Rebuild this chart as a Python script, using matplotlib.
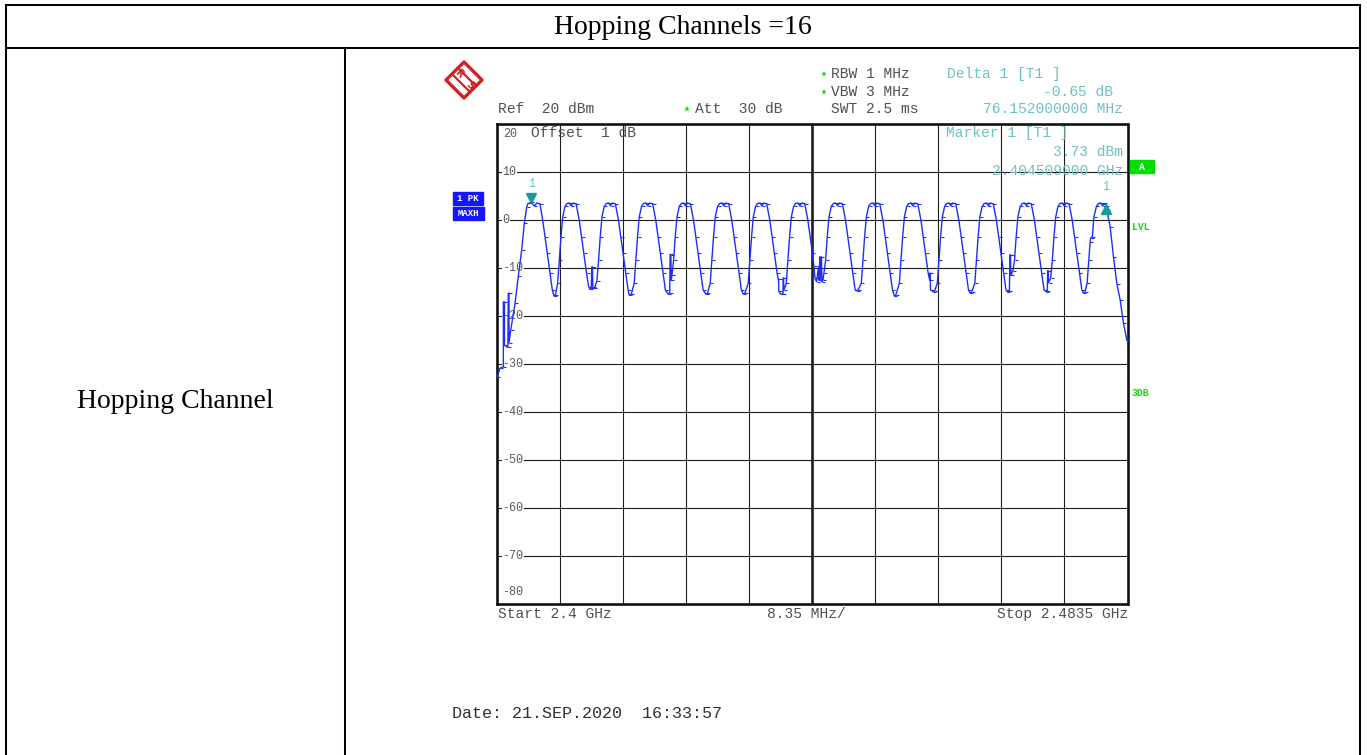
import numpy as np
import matplotlib
matplotlib.use("Agg")
import matplotlib.pyplot as plt
import matplotlib.transforms as mtransforms
from matplotlib.patches import Polygon, Rectangle

# table texts
title = "Hopping Channels =16"
row_label = "Hopping Channel"

# analyzer settings
start_mhz = 2400.0
stop_mhz = 2483.5
ref_level = 20
bottom_level = -80
grid_levels = [10, 0, -10, -20, -30, -40, -50, -60, -70]

# MAXH trace, frequency offset from start (MHz) and level (dBm), one line per channel
trace_offset_mhz = [
    0.00, 0.36, 0.80, 0.80, 0.95, 0.95, 1.40, 1.46, 1.55, 1.55, 1.78, 2.35, 2.78, 3.23, 3.58, 3.90, 4.07, 4.51, 4.90, 5.25, 5.66, 6.02, 6.32, 6.63, 6.98, 7.29, 7.51, 7.70,
    8.00, 8.22, 8.44, 8.67, 8.97, 9.25, 9.55, 9.80, 10.05, 10.45, 10.86, 11.16, 11.47, 11.82, 12.10, 12.28, 12.45, 12.52, 12.60, 12.66, 12.85,
    13.20, 13.42, 13.64, 13.87, 14.17, 14.45, 14.75, 15.00, 15.25, 15.65, 16.06, 16.36, 16.67, 17.02, 17.33, 17.49, 17.75,
    18.14, 18.36, 18.58, 18.81, 19.11, 19.39, 19.69, 19.94, 20.19, 20.59, 21.00, 21.30, 21.61, 21.96, 22.27, 22.66, 22.85, 22.90, 23.00, 23.04,
    23.14, 23.36, 23.58, 23.81, 24.11, 24.39, 24.69, 24.94, 25.19, 25.59, 26.00, 26.30, 26.61, 26.96, 27.27, 27.65, 27.85,
    28.21, 28.43, 28.65, 28.88, 29.18, 29.46, 29.76, 30.01, 30.26, 30.66, 31.07, 31.37, 31.68, 32.03, 32.34, 32.60, 32.80,
    33.25, 33.47, 33.69, 33.92, 34.22, 34.50, 34.80, 35.05, 35.30, 35.70, 36.11, 36.41, 36.72, 37.07, 37.22, 37.26, 37.30, 37.56, 37.85, 37.88, 37.93, 37.96,
    38.29, 38.51, 38.73, 38.96, 39.26, 39.54, 39.84, 40.09, 40.34, 40.74, 41.15, 41.45, 41.76, 41.95, 42.10, 42.30, 42.55, 42.62, 42.74, 42.80, 42.95, 43.02, 43.15,
    43.28, 43.50, 43.72, 43.95, 44.25, 44.53, 44.83, 45.08, 45.33, 45.73, 46.14, 46.44, 46.75, 47.10, 47.41, 47.63, 47.80,
    48.23, 48.45, 48.67, 48.90, 49.20, 49.48, 49.78, 50.03, 50.28, 50.68, 51.09, 51.39, 51.70, 52.05, 52.36, 52.62, 52.80,
    53.27, 53.49, 53.71, 53.94, 54.24, 54.52, 54.82, 55.07, 55.32, 55.72, 56.13, 56.43, 56.74, 57.09, 57.30, 57.35, 57.40, 57.79, 57.95,
    58.30, 58.52, 58.74, 58.97, 59.27, 59.55, 59.85, 60.10, 60.35, 60.75, 61.16, 61.46, 61.77, 62.12, 62.43, 62.65, 62.85,
    63.27, 63.49, 63.71, 63.94, 64.24, 64.52, 64.82, 65.07, 65.32, 65.72, 66.13, 66.43, 66.74, 67.09, 67.40, 67.60, 67.85, 67.92, 68.00, 68.05,
    68.31, 68.53, 68.75, 68.98, 69.28, 69.56, 69.86, 70.11, 70.36, 70.76, 71.17, 71.47, 71.78, 72.13, 72.44, 72.73, 72.88, 72.92, 73.00, 73.04,
    73.32, 73.54, 73.76, 73.99, 74.29, 74.57, 74.87, 75.12, 75.37, 75.77, 76.18, 76.48, 76.79, 77.14, 77.45, 77.67, 77.85,
    78.15, 78.37, 78.55, 78.62, 78.85, 79.05, 79.38, 79.66, 79.96, 80.21, 80.40, 80.66, 80.76, 81.20, 81.64, 82.09, 82.53, 82.97, 83.42,
]
trace_level_dbm = [
    -32.6, -30.8, -30.5, -17.0, -17.0, -26.0, -26.5, -15.2, -15.2, -25.5, -22.9, -17.3, -11.7, -6.2, -0.6, 2.8, 3.5, 3.73, 3.0, 3.6, 3.4, 0.0, -3.4, -6.9, -11.0, -14.5, -15.8, -15.6,
    -13.1, -8.3, -3.4, 0.7, 2.9, 3.5, 3.6, 3.0, 3.6, 3.4, 0.0, -3.4, -6.9, -11.0, -13.8, -14.4, -14.2, -9.7, -9.7, -14.0, -14.2,
    -12.6, -8.3, -3.4, 0.7, 2.9, 3.5, 3.6, 3.0, 3.6, 3.4, 0.0, -3.4, -6.9, -11.0, -14.5, -15.6, -15.4,
    -13.1, -8.3, -3.4, 0.7, 2.9, 3.5, 3.6, 3.0, 3.6, 3.4, 0.0, -3.4, -6.9, -11.0, -14.5, -15.4, -15.2, -7.1, -7.3, -12.5,
    -11.5, -8.3, -3.4, 0.7, 2.9, 3.5, 3.6, 3.0, 3.6, 3.4, 0.0, -3.4, -6.9, -11.0, -14.5, -15.4, -15.2,
    -13.1, -8.3, -3.4, 0.7, 2.9, 3.5, 3.6, 3.0, 3.6, 3.4, 0.0, -3.4, -6.9, -11.0, -14.5, -15.4, -15.2,
    -13.1, -8.3, -3.4, 0.7, 2.9, 3.5, 3.6, 3.0, 3.6, 3.4, 0.0, -3.4, -6.9, -11.0, -12.3, -12.3, -14.8, -15.4, -15.3, -12.0, -12.0, -14.6,
    -13.1, -8.3, -3.4, 0.7, 2.9, 3.5, 3.6, 3.0, 3.6, 3.4, 0.0, -3.4, -6.9, -9.5, -12.1, -12.8, -9.7, -12.5, -7.6, -12.3, -7.6, -12.8, -12.4,
    -11.0, -8.3, -3.4, 0.7, 2.9, 3.5, 3.6, 3.0, 3.6, 3.4, 0.0, -3.4, -6.9, -11.0, -14.5, -14.7, -14.5,
    -13.1, -8.3, -3.4, 0.7, 2.9, 3.5, 3.6, 3.0, 3.6, 3.4, 0.0, -3.4, -6.9, -11.0, -14.5, -15.8, -15.6,
    -13.1, -8.3, -3.4, 0.7, 2.9, 3.5, 3.6, 3.0, 3.6, 3.4, 0.0, -3.4, -6.9, -11.0, -12.5, -11.0, -14.5, -14.9, -14.7,
    -13.1, -8.3, -3.4, 0.7, 2.9, 3.5, 3.6, 3.0, 3.6, 3.4, 0.0, -3.4, -6.9, -11.0, -14.5, -15.2, -15.0,
    -13.1, -8.3, -3.4, 0.7, 2.9, 3.5, 3.6, 3.0, 3.6, 3.4, 0.0, -3.4, -6.9, -11.0, -14.5, -14.9, -14.8, -7.2, -7.2, -11.5,
    -10.5, -8.3, -3.4, 0.7, 2.9, 3.5, 3.6, 3.0, 3.6, 3.4, 0.0, -3.4, -6.9, -11.0, -14.5, -14.9, -14.7, -10.5, -10.5, -13.0,
    -12.0, -8.3, -3.4, 0.7, 2.9, 3.5, 3.6, 3.0, 3.6, 3.4, 0.0, -3.4, -6.9, -11.0, -14.5, -15.2, -15.0,
    -13.1, -8.3, -4.5, -3.7, -3.4, 0.7, 2.9, 3.5, 3.6, 3.0, 3.5, 3.08, 2.1, -1.3, -7.6, -13.2, -16.6, -21.5, -25.0,
]

# marker 1 and delta marker 1
marker_freq_mhz = [2404.509, 2480.661]
marker_level_dbm = [3.73, 3.08]

# screen annotations
settings_left = ["Ref  20 dBm", "Att  30 dB"]
settings_mid = ["RBW 1 MHz", "VBW 3 MHz", "SWT 2.5 ms"]
delta_info = ["Delta 1 [T1 ]", "-0.65 dB", "76.152000000 MHz"]
marker_info = ["Marker 1 [T1 ]", "3.73 dBm", "2.404509000 GHz"]
footer = ["Start 2.4 GHz", "8.35 MHz/", "Stop 2.4835 GHz"]
date_text = "Date: 21.SEP.2020  16:33:57"

W, H = 1367, 755
MONO = "Liberation Mono"
SERIF = "Liberation Serif"
INK = "#505050"
TEAL = "#6cc2c2"
GREEN = "#18d418"

fig = plt.figure(figsize=(W / 100, H / 100), dpi=100)


def rect(left, top, right, bottom):
    return [left / W, 1 - bottom / H, (right - left) / W, (bottom - top) / H]


# spectrum screen
ax = fig.add_axes(rect(497.3, 124.3, 1127.5, 604.3))
ax.set_xlim(start_mhz, stop_mhz)
ax.set_ylim(bottom_level, ref_level)
ax.set_xticks([])
ax.set_yticks([])
for sp in ax.spines.values():
    sp.set_linewidth(1.9)
    sp.set_color("#111111")

span = stop_mhz - start_mhz
for i in range(1, 10):
    ax.axvline(start_mhz + i * span / 10, color="#1e1e1e",
               lw=1.9 if i == 5 else 0.8, zorder=1)
for lvl in grid_levels:
    ax.axhline(lvl, color="#1e1e1e", lw=0.8, zorder=1)

ylab_tr = mtransforms.blended_transform_factory(ax.transAxes, ax.transData)
for lvl in grid_levels:
    ax.text(0.008, lvl, str(lvl), transform=ylab_tr, ha="left", va="center",
            family=MONO, fontsize=8.5, color="#5a5a5a", zorder=2,
            bbox=dict(fc="white", ec="none", pad=0.6))

freq = start_mhz + np.array(trace_offset_mhz)
tick = [(0, 0), (1, 0)]
ax.plot(freq, trace_level_dbm, color="#1e2ff0", lw=1.0, zorder=3,
        marker=tick, ms=4.5, mew=0.8, mec="#1e2ff0")

# markers
up1 = mtransforms.offset_copy(ax.transData, fig=fig, x=0, y=4, units="dots")
ax.plot(marker_freq_mhz[0], marker_level_dbm[0], marker="v", ms=6.5,
        color="#169c98", transform=up1, zorder=4, clip_on=False)
dn2 = mtransforms.offset_copy(ax.transData, fig=fig, x=0, y=-3, units="dots")
ax.plot(marker_freq_mhz[1], marker_level_dbm[1], marker="^", ms=6.5,
        color="#169c98", transform=dn2, zorder=4, clip_on=False)
for f, l in zip(marker_freq_mhz, marker_level_dbm):
    ax.annotate("1", (f, l), xytext=(0, 13), textcoords="offset points",
                ha="center", va="center", family=MONO, fontsize=8.5, color=TEAL)

# overlay in pixel coordinates for table and screen texts
ov = fig.add_axes([0, 0, 1, 1], zorder=10)
ov.set_xlim(0, W)
ov.set_ylim(H, 0)
ov.axis("off")
ov.patch.set_visible(False)

lw_tab = 1.45
ov.plot([6, 1360], [5, 5], color="black", lw=lw_tab)
ov.plot([6, 1360], [47.5, 47.5], color="black", lw=lw_tab)
ov.plot([6, 6], [5, 760], color="black", lw=lw_tab)
ov.plot([1360, 1360], [5, 760], color="black", lw=lw_tab)
ov.plot([345, 345], [47.5, 760], color="black", lw=lw_tab)
ov.text(683, 27, title, ha="center", va="center", family=SERIF, fontsize=20, color="black")
ov.text(175.5, 402, row_label, ha="center", va="center", family=SERIF, fontsize=20, color="black")


def mono(x, y, s, color=INK, size=10.5, ha="left", **kw):
    ov.text(x, y, s, ha=ha, va="center", family=MONO, fontsize=size, color=color, **kw)


# header of the analyzer screen
mono(831, 74, settings_mid[0])
mono(831, 91.5, settings_mid[1])
mono(831, 109, settings_mid[2])
mono(498, 109, settings_left[0])
mono(695, 109, settings_left[1])
for sx, sy in [(823.5, 74), (823.5, 91.5), (687, 109)]:
    ov.plot(sx, sy, marker="*", ms=4.5, color=GREEN, mew=0)
mono(947, 74, delta_info[0], TEAL)
mono(1113, 91.5, delta_info[1], TEAL, ha="right")
mono(1123, 109, delta_info[2], TEAL, ha="right")

# texts inside the screen
mono(503, 134, "20", "#5a5a5a", size=8.5)
mono(531, 133, "Offset  1 dB", INK)
mono(946, 133, marker_info[0], TEAL)
mono(1123, 152, marker_info[1], TEAL, ha="right")
mono(1123, 171, marker_info[2], TEAL, ha="right")
mono(502, 592, "-80", "#5a5a5a", size=8.5)

# footer of the screen
mono(498, 614, footer[0])
mono(806, 614, footer[1], ha="center")
mono(1128, 614, footer[2], ha="right")
mono(452, 713, date_text, "#303030", size=12.1)

# side annotations
ov.add_patch(Rectangle((453.3, 191.7), 29.4, 13.3, color="#1414ff"))
ov.add_patch(Rectangle((453, 207.3), 31, 12.7, color="#1414ff"))
ov.text(468, 198.5, "1 PK", ha="center", va="center", family=MONO, fontsize=6.5,
        weight="bold", color="white")
ov.text(468.5, 213.7, "MAXH", ha="center", va="center", family=MONO, fontsize=6.5,
        weight="bold", color="white")
ov.add_patch(Rectangle((1130, 160), 24, 13.3, color="#00dd00"))
ov.text(1142, 166.7, "A", ha="center", va="center", family=MONO, fontsize=7,
        weight="bold", color="white")
ov.text(1132, 227.5, "LVL", ha="left", va="center", family=MONO, fontsize=7,
        weight="bold", color=GREEN)
ov.text(1132, 393, "3DB", ha="left", va="center", family=MONO, fontsize=7,
        weight="bold", color=GREEN)

# R&S logo
red = "#d42222"
ov.add_patch(Polygon([(464, 62), (482, 80), (464, 98), (446, 80)], closed=True,
                     fc="white", ec=red, lw=2.4, joinstyle="round"))
ov.plot([452, 470], [74, 92], color=red, lw=1.6)
ov.plot([458, 476], [68, 86], color=red, lw=1.6)
ov.text(459, 74, "R", ha="center", va="center", fontsize=7, weight="bold",
        color=red, rotation=-45)
ov.text(470, 85, "S", ha="center", va="center", fontsize=7, weight="bold",
        color=red, rotation=-45)

fig.savefig("out.png", dpi=100, facecolor="white")
